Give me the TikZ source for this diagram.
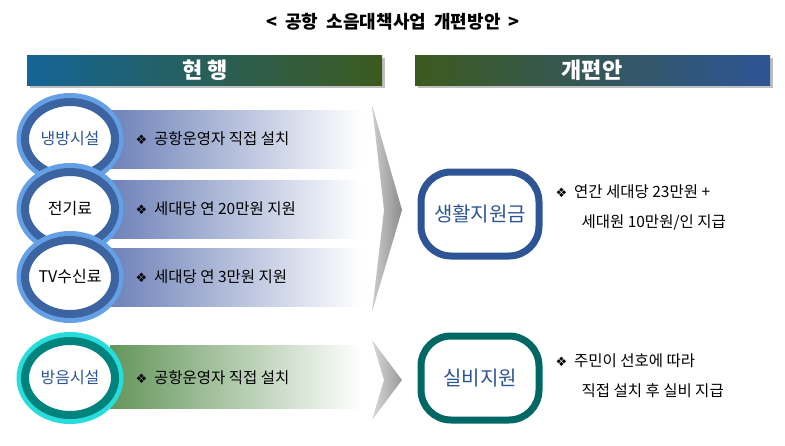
\documentclass[tikz,border=0pt]{standalone}
\usepackage{fontspec}
\setmainfont{Noto Sans CJK KR}
\newfontfamily\symf{DejaVu Sans}
\usetikzlibrary{shadows,shapes.geometric}
\definecolor{hblue}{RGB}{20,100,150}
\definecolor{hgreen}{RGB}{60,90,30}
\definecolor{rblue}{RGB}{45,85,150}
\definecolor{ringblue}{RGB}{60,100,160}
\definecolor{ringlight}{RGB}{100,160,230}
\definecolor{teal1}{RGB}{0,130,125}
\definecolor{teal2}{RGB}{40,220,220}
\definecolor{bandblue}{RGB}{110,130,185}
\definecolor{bandgreen}{RGB}{100,150,90}
\newcommand{\dia}{{\symf\fontsize{13}{15}\selectfont ❖}\ \ }
\tikzset{
 bandtxt/.style={anchor=west,font=\fontsize{15.5}{18}\selectfont},
 ring/.style={ellipse,draw=#1,line width=8pt,fill=white,minimum width=90pt,minimum height=74pt,inner sep=0pt,font=\fontsize{16}{18}\selectfont},
 rbox/.style={draw=rblue,line width=7pt,rounded corners=30pt,fill=white,minimum width=118pt,minimum height=84pt,font=\fontsize{20}{22}\selectfont,text=rblue},
}
\begin{document}
\begin{tikzpicture}[x=1pt,y=-1pt]
\useasboundingbox (0,0) rectangle (785,445);
\node (title) at (393,22) {\fontsize{18}{20}\selectfont\bfseries <\ \ 공항\ \ 소음대책사업\ \ 개편방안\ \ >};
% headers
\shade[left color=hblue,right color=hgreen,drop shadow] (27,55) rectangle (382,85);
\node[text=white,font=\fontsize{22}{24}\selectfont\bfseries] (h1) at (205,70) {현\ 행};
\shade[left color=hgreen,right color=rblue,drop shadow] (415,55) rectangle (770,85);
\node[text=white,font=\fontsize{22}{24}\selectfont\bfseries] (h2) at (592,70) {개편안};
% bands
\shade[left color=bandblue,right color=white] (110,110) rectangle (362,168);
\shade[left color=bandblue,right color=white] (110,180) rectangle (362,238);
\shade[left color=bandblue,right color=white] (110,248) rectangle (362,306);
\shade[left color=bandgreen,right color=white] (110,345) rectangle (362,408);
% chevrons
\shade[top color=gray!40,bottom color=gray!90,shading angle=90] (372,105) -- (402,210) -- (372,312) -- (384,210) -- cycle;
\shade[left color=gray!30,right color=gray!80] (372,340) -- (402,380) -- (372,420) -- (384,380) -- cycle;
% rings
\node[ring=ringlight,minimum width=99pt,minimum height=84pt] at (70,139) {};
\node[ring=ringblue,text=rblue] (a) at (70,139) {냉방시설};
\node[ring=ringlight,minimum width=99pt,minimum height=84pt] at (70,209) {};
\node[ring=ringblue] (b) at (70,209) {전기료};
\node[ring=ringlight,minimum width=99pt,minimum height=84pt] at (70,277) {};
\node[ring=ringblue] (c) at (70,277) {TV수신료};
\node[ring=teal2,minimum width=99pt,minimum height=84pt] at (70,378) {};
\node[ring=teal1,text=rblue] (d) at (70,378) {방음시설};
\node[bandtxt] (ta) at (132,139) {\dia 공항운영자 직접 설치};
\node[bandtxt] (tb) at (132,209) {\dia 세대당 연 20만원 지원};
\node[bandtxt] (tc) at (132,277) {\dia 세대당 연 3만원 지원};
\node[bandtxt] (td) at (132,378) {\dia 공항운영자 직접 설치};
% right
\node[rbox] (r1) at (480,214) {생활지원금};
\node[rbox,draw=teal1!80!black] (r2) at (480,378) {실비지원};
\node[bandtxt] (u1) at (552,192) {\dia 연간 세대당 23만원 +};
\node[bandtxt] (u2) at (578,222) {세대원 10만원/인 지급};
\node[bandtxt] (v1) at (552,361) {\dia 주민이 선호에 따라};
\node[bandtxt] (v2) at (578,391) {직접 설치 후 실비 지급};
\end{tikzpicture}
\end{document}
